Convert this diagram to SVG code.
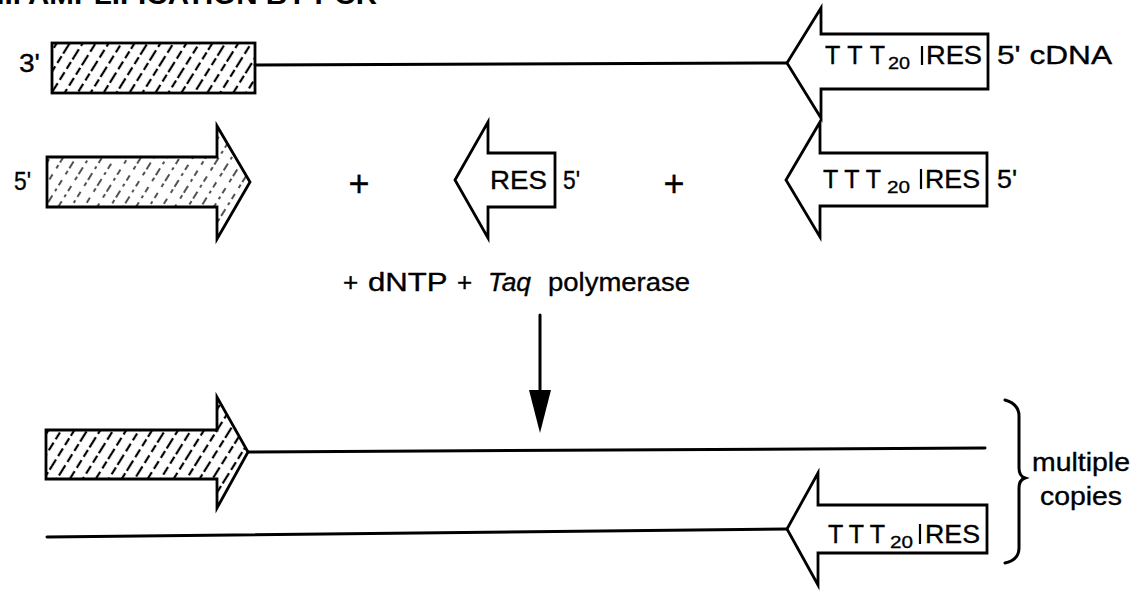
<svg xmlns="http://www.w3.org/2000/svg" width="1143" height="597" viewBox="0 0 1143 597">
  <defs>
    <!-- diagonal hatching for the primer / insert blocks -->
    <pattern id="hatch" patternUnits="userSpaceOnUse" width="11" height="40" patternTransform="rotate(32)">
      <line x1="5" y1="0" x2="5" y2="40" stroke="#000" stroke-width="2.2" stroke-dasharray="12 3 8 4 9 4"/>
    </pattern>
    <pattern id="hatch-light" patternUnits="userSpaceOnUse" width="11" height="40" patternTransform="rotate(32)">
      <line x1="5" y1="0" x2="5" y2="40" stroke="#333" stroke-width="1.7" stroke-dasharray="6 4 3 5 8 3 4 7"/>
    </pattern>
  </defs>
  <style>
    .t { font-family: "Liberation Sans", Arial, sans-serif; font-size: 25px; fill: #000; stroke: #000; stroke-width: 0.35px; }
    .sub { font-family: "Liberation Sans", Arial, sans-serif; font-size: 16px; fill: #000; stroke: #000; stroke-width: 0.3px; }
    .big { font-size: 26px; }
    .plus { font-size: 36px; }
    .title { font-family: "Liberation Sans", Arial, sans-serif; font-size: 28px; font-weight: bold; fill: #000; }
    .shape { stroke: #000; stroke-width: 2.8; stroke-linejoin: miter; }
    .open { fill: #fff; }
    .wire { stroke: #000; stroke-width: 3; fill: none; stroke-linecap: round; }
    .bar { stroke: #000; stroke-width: 2.2; }
  </style>
  <rect width="1143" height="597" fill="#fff"/>

  <!-- section heading, running off the top edge -->
  <text id="heading" class="title" x="-12" y="4" textLength="389" lengthAdjust="spacingAndGlyphs">III. AMPLIFICATION BY PCR</text>

  <!-- connectors: strands and the reaction arrow -->
  <g id="connectors">
    <line class="wire" x1="255" y1="65" x2="787" y2="63"/>
    <line class="wire" x1="248" y1="452" x2="985" y2="448"/>
    <line class="wire" x1="47" y1="537" x2="787" y2="529"/>
    <line class="wire" x1="540" y1="315" x2="540" y2="395"/>
    <polygon points="529,390 551,390 540,433" fill="#000"/>
  </g>

  <!-- cDNA template: 3' hatched block -->
  <g id="template-block">
    <rect class="shape" x="52" y="43" width="203" height="50" fill="url(#hatch)"/>
    <text class="t big" x="19" y="72" textLength="21" lengthAdjust="spacingAndGlyphs">3'</text>
  </g>

  <!-- cDNA template: oligo-dT / RES end -->
  <g id="template-primer">
    <polygon class="shape open" points="787,63 821,8 821,34 988,34 988,89 821,89 821,118"/>
    <text class="t" x="825" y="64" textLength="60" lengthAdjust="spacing">TTT</text>
    <text class="sub" x="888" y="69" textLength="22" lengthAdjust="spacingAndGlyphs">20</text>
    <line class="bar" x1="922" y1="46" x2="922" y2="65"/>
    <text class="t" x="926" y="64" textLength="56" lengthAdjust="spacingAndGlyphs">RES</text>
    <text class="t" x="997" y="64" textLength="115" lengthAdjust="spacingAndGlyphs">5' cDNA</text>
  </g>

  <!-- forward primer (hatched) -->
  <g id="forward-primer">
    <polygon class="shape" points="47,157 217,157 217,126 250,182 217,239 217,207 47,207" fill="url(#hatch-light)"/>
    <text class="t" x="14" y="190" textLength="17" lengthAdjust="spacingAndGlyphs">5'</text>
  </g>

  <text id="plus-1" class="t plus" x="359" y="196" text-anchor="middle">+</text>

  <!-- RES primer -->
  <g id="res-primer">
    <polygon class="shape open" points="455,180 488,122 488,153 555,153 555,207 488,207 488,238"/>
    <text class="t" x="490" y="189" textLength="57" lengthAdjust="spacingAndGlyphs">RES</text>
    <text class="t" x="563" y="189" textLength="17" lengthAdjust="spacingAndGlyphs">5'</text>
  </g>

  <text id="plus-2" class="t plus" x="674" y="196" text-anchor="middle">+</text>

  <!-- oligo-dT / RES primer -->
  <g id="dt-res-primer">
    <polygon class="shape open" points="786,180 820,122 820,153 987,153 987,206 820,206 820,237"/>
    <text class="t" x="823" y="188" textLength="58" lengthAdjust="spacing">TTT</text>
    <text class="sub" x="887" y="193" textLength="23" lengthAdjust="spacingAndGlyphs">20</text>
    <line class="bar" x1="921" y1="169" x2="921" y2="189"/>
    <text class="t" x="925" y="188" textLength="55" lengthAdjust="spacingAndGlyphs">RES</text>
    <text class="t" x="997" y="188" textLength="20" lengthAdjust="spacingAndGlyphs">5'</text>
  </g>

  <!-- reaction conditions -->
  <g id="reaction-label">
    <text class="t big" y="291">
      <tspan x="343">+</tspan>
      <tspan x="368" textLength="79" lengthAdjust="spacingAndGlyphs">dNTP</tspan>
      <tspan x="457">+</tspan>
      <tspan x="488" font-style="italic" textLength="43" lengthAdjust="spacingAndGlyphs">Taq</tspan>
      <tspan x="548" textLength="142" lengthAdjust="spacingAndGlyphs">polymerase</tspan>
    </text>
  </g>

  <!-- products: forward strand -->
  <g id="product-forward">
    <polygon class="shape" points="46,430 217,430 217,397 248,452 217,508 217,479 46,479" fill="url(#hatch)"/>
  </g>

  <!-- products: reverse strand -->
  <g id="product-reverse">
    <polygon class="shape open" points="787,529 818,473 818,505 987,505 987,553 818,553 818,585"/>
    <text class="t" x="828" y="543" textLength="57" lengthAdjust="spacing">TTT</text>
    <text class="sub" x="890" y="548" textLength="23" lengthAdjust="spacingAndGlyphs">20</text>
    <line class="bar" x1="920" y1="524" x2="920" y2="544"/>
    <text class="t" x="925" y="543" textLength="55" lengthAdjust="spacingAndGlyphs">RES</text>
  </g>

  <!-- brace and note -->
  <g id="copies-note">
    <path class="wire" stroke-width="2.6" d="M1005,400 Q1019,404 1019,416 L1019,468 Q1019,476 1025,478 Q1019,480 1019,488 L1019,548 Q1019,560 1005,563"/>
    <text class="t" x="1032" y="471" textLength="98" lengthAdjust="spacingAndGlyphs">multiple</text>
    <text class="t" x="1040" y="505" textLength="82" lengthAdjust="spacingAndGlyphs">copies</text>
  </g>
</svg>
